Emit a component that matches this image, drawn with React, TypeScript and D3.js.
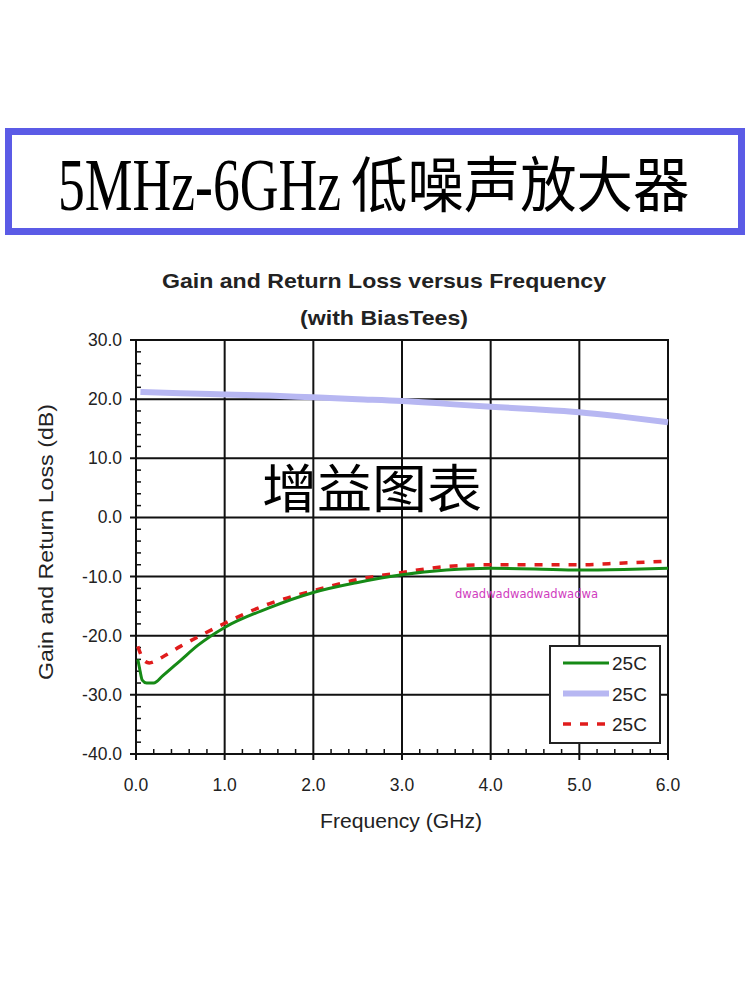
import React from "react";
import * as d3 from "d3";

const xTicks = [0, 1, 2, 3, 4, 5, 6];
const yTicks = [30, 20, 10, 0, -10, -20, -30, -40];

const gainFreq = [0.05, 0.5, 1.0, 1.5, 2.0, 2.5, 3.0, 3.5, 4.0, 4.5, 5.0, 5.5, 6.0];
const gainDb = [21.2, 21.0, 20.8, 20.6, 20.3, 20.0, 19.7, 19.2, 18.7, 18.3, 17.8, 17.0, 16.1];

const s11Freq = [0.02, 0.04, 0.07, 0.12, 0.2, 0.3, 0.5, 0.7, 1.0, 1.5, 2.0, 2.5, 3.0, 3.5, 4.0, 4.5, 5.0, 5.5, 6.0];
const s11Db = [-24.0, -25.5, -27.5, -28.0, -28.0, -26.8, -24.2, -21.6, -18.6, -15.3, -12.7, -11.0, -9.7, -8.9, -8.6, -8.7, -8.9, -8.8, -8.6];

const s22Freq = [0.02, 0.05, 0.1, 0.15, 0.3, 0.5, 0.75, 1.0, 1.5, 2.0, 2.5, 3.0, 3.5, 4.0, 4.5, 5.0, 5.5, 6.0];
const s22Db = [-21.8, -23.0, -24.3, -24.6, -23.6, -21.8, -19.8, -17.9, -14.6, -12.4, -10.5, -9.3, -8.3, -8.0, -8.0, -8.0, -7.7, -7.4];

const legendLabels = ["25C", "25C", "25C"];

const W = 750;
const H = 1000;
const plot = { left: 136, right: 668, top: 340, bottom: 754 };

export default function App() {
  const x = d3.scaleLinear().domain([0, 6]).range([plot.left, plot.right]);
  const y = d3.scaleLinear().domain([-40, 30]).range([plot.bottom, plot.top]);

  const mk = (fs: number[], vs: number[]) =>
    d3
      .line<number>()
      .x((_, i) => x(fs[i]))
      .y((v) => y(v))
      .curve(d3.curveMonotoneX)(vs) || "";

  const xMinor = d3.range(0, 6.001, 0.2).filter((v) => Math.abs(v - Math.round(v)) > 0.01);
  const yMinor = d3.range(-40, 30.001, 2).filter((v) => Math.abs(v % 10) > 0.01);

  const sans = "'Liberation Sans', Arial, sans-serif";
  const legendX = 550;
  const legendY = 646;
  const series = [
    { color: "#168a16", width: 3, dash: undefined as string | undefined },
    { color: "#b7b7f2", width: 6, dash: undefined },
    { color: "#e01c1c", width: 3.5, dash: "8,9" },
  ];

  return (
    <svg
      width={W}
      height={H}
      style={{ position: "absolute", left: 0, top: 0, background: "#fff" }}
    >
      <rect x={0} y={0} width={W} height={H} fill="#fff" />
      {/* Title box */}
      <rect x={8.5} y={131.5} width={733} height={100} fill="#fff" stroke="#5b5be6" strokeWidth={7} />
      <text
        transform="translate(58,210) scale(0.725,1)"
        fill="#000"
        fontFamily="'Liberation Serif', 'DejaVu Serif', serif"
        fontSize={74}
      >
        5MHz-6GHz
      </text>
      <text
        transform="translate(351,207) scale(0.94,1)"
        fill="#000"
        fontFamily="'Noto Sans CJK SC', sans-serif"
        fontSize={60}
      >
        低噪声放大器
      </text>

      {/* Chart title */}
      <text x={384} y={288} textAnchor="middle" fontFamily={sans} fontWeight="bold" fontSize={21} fill="#222" textLength={444} lengthAdjust="spacingAndGlyphs">
        Gain and Return Loss versus Frequency
      </text>
      <text x={384} y={325} textAnchor="middle" fontFamily={sans} fontWeight="bold" fontSize={21} fill="#222" textLength={168} lengthAdjust="spacingAndGlyphs">
        (with BiasTees)
      </text>

      {/* Grid */}
      {xTicks.map((t) => (
        <line key={"gx" + t} x1={x(t)} x2={x(t)} y1={plot.top} y2={plot.bottom + 6} stroke="#111" strokeWidth={2} />
      ))}
      {yTicks.map((t) => (
        <line key={"gy" + t} x1={plot.left - 6} x2={plot.right} y1={y(t)} y2={y(t)} stroke="#111" strokeWidth={2} />
      ))}
      {xMinor.map((t) => (
        <line key={"mx" + t} x1={x(t)} x2={x(t)} y1={plot.bottom} y2={plot.bottom - 5} stroke="#111" strokeWidth={1.5} />
      ))}
      {yMinor.map((t) => (
        <line key={"my" + t} x1={plot.left} x2={plot.left + 5} y1={y(t)} y2={y(t)} stroke="#111" strokeWidth={1.5} />
      ))}
      <rect x={plot.left} y={plot.top} width={plot.right - plot.left} height={plot.bottom - plot.top} fill="none" stroke="#111" strokeWidth={2} />

      {/* Tick labels */}
      {yTicks.map((t) => (
        <text key={"ly" + t} x={122} y={y(t) + 6} textAnchor="end" fontFamily={sans} fontSize={17.5} fill="#222">
          {t.toFixed(1)}
        </text>
      ))}
      {xTicks.map((t) => (
        <text key={"lx" + t} x={x(t)} y={791} textAnchor="middle" fontFamily={sans} fontSize={17.5} fill="#222">
          {t.toFixed(1)}
        </text>
      ))}
      <text x={401} y={828} textAnchor="middle" fontFamily={sans} fontSize={20} fill="#222" textLength={162} lengthAdjust="spacingAndGlyphs">
        Frequency (GHz)
      </text>
      <text
        transform={`translate(53,542) rotate(-90)`}
        textAnchor="middle"
        fontFamily={sans}
        fontSize={21}
        fill="#222"
        textLength={276}
        lengthAdjust="spacingAndGlyphs"
      >
        Gain and Return Loss (dB)
      </text>

      {/* Overlay text */}
      <text
        x={262}
        y={508}
        fontFamily="'Noto Sans CJK SC', sans-serif"
        fontSize={52}
        textLength={220}
        lengthAdjust="spacingAndGlyphs"
        fill="#000"
      >
        增益图表
      </text>

      {/* Series */}
      <path d={mk(gainFreq, gainDb)} fill="none" stroke={series[1].color} strokeWidth={6} />
      <path d={mk(s22Freq, s22Db)} fill="none" stroke={series[2].color} strokeWidth={3.5} strokeDasharray="8,9" />
      <path d={mk(s11Freq, s11Db)} fill="none" stroke={series[0].color} strokeWidth={3} />

      <text x={455} y={598} fontFamily="'DejaVu Sans', sans-serif" fontSize={11.5} fill="#d03cc0" textLength={143} lengthAdjust="spacingAndGlyphs">
        dwadwadwadwadwadwa
      </text>

      {/* Legend */}
      <rect x={legendX} y={legendY} width={110} height={97} fill="#fff" stroke="#222" strokeWidth={2} />
      {legendLabels.map((lab, i) => {
        const ly = 663 + i * 30.5;
        const s = series[i];
        return (
          <g key={"lg" + i}>
            <line x1={563} x2={609} y1={ly} y2={ly} stroke={s.color} strokeWidth={s.width} strokeDasharray={s.dash} />
            <text x={612} y={ly + 7} fontFamily={sans} fontSize={19} fill="#222">
              {lab}
            </text>
          </g>
        );
      })}
    </svg>
  );
}
